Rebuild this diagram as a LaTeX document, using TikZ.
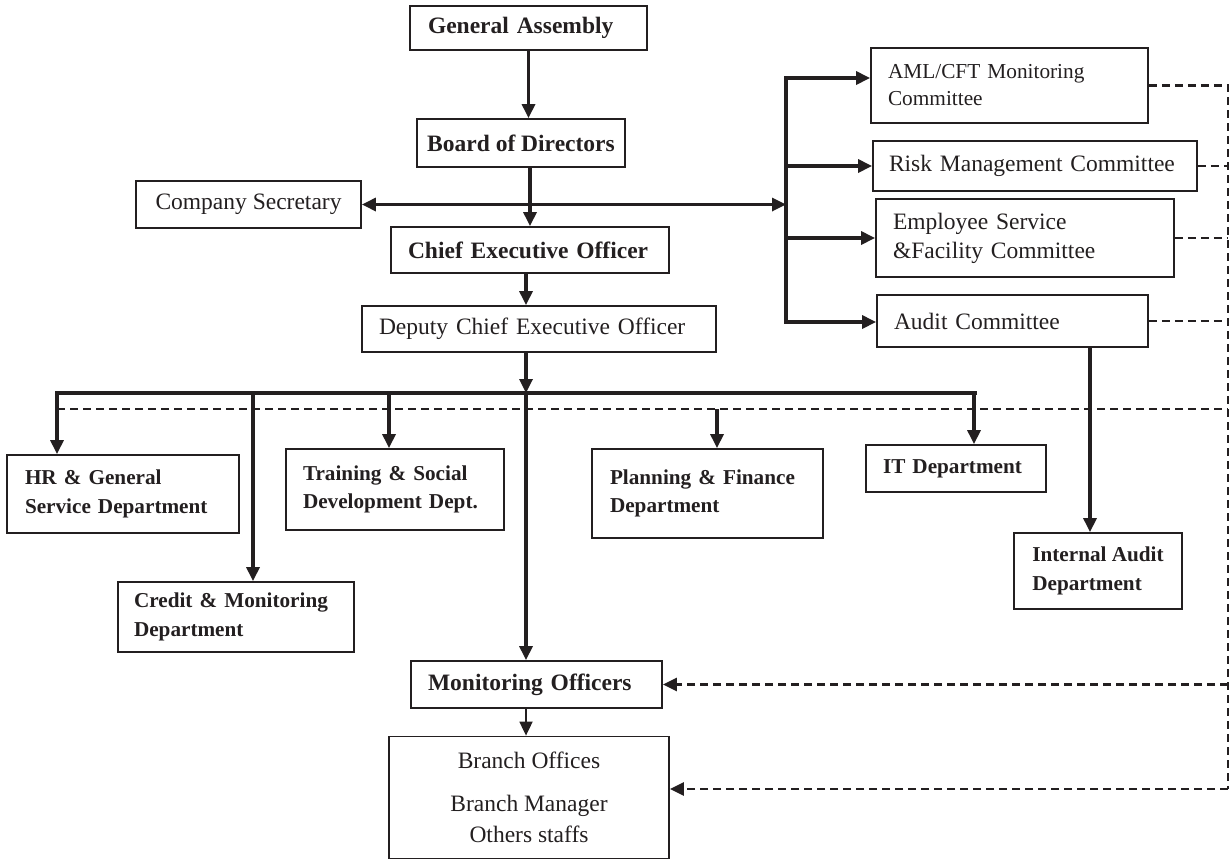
\documentclass[tikz,border=0pt]{standalone}
\usepackage{fontspec}
\setmainfont{Liberation Serif}
\usetikzlibrary{arrows.meta}
\definecolor{ink}{RGB}{35,31,32}
\tikzset{
  box/.style={draw=ink, line width=1.8pt, inner sep=0pt, text=ink, align=left},
  big/.style={font=\fontsize{23.5}{29}\selectfont},
  bigbf/.style={font=\bfseries\fontsize{23.5}{29}\selectfont},
  dept/.style={font=\bfseries\fontsize{21.2}{28.5}\selectfont},
  link/.style={draw=ink, line width=3.2pt},
  thinlink/.style={draw=ink, line width=1.8pt},
  dlink/.style={draw=ink, line width=2.4pt, dash pattern=on 8pt off 5pt},
}
\begin{document}
\begin{tikzpicture}[x=1pt,y=1pt,yscale=-1,xscale=1,>={Triangle[length=14pt,width=13pt]}]
\useasboundingbox (0,0) rectangle (1230,860);

% Box: top of the chart
\node[box, bigbf, minimum width=237pt, minimum height=44pt, text width=201pt] (ga) at (528.5,28) {General Assembly};
\node[box, bigbf, minimum width=208pt, minimum height=48pt] (bod) at (521,143) {Board of Directors};
\node[box, big, minimum width=225pt, minimum height=47pt] (cs) at (248.5,204.5) {Company Secretary};
\node[box, bigbf, minimum width=278pt, minimum height=46pt, text width=244pt] (ceo) at (530,250) {Chief Executive Officer};
\node[box, big, minimum width=354pt, minimum height=46pt, text width=320pt] (dceo) at (539,329) {Deputy Chief Executive Officer};

% Box: committees
\node[box, font=\fontsize{21.3}{27}\selectfont, minimum width=277pt, minimum height=75pt, text width=243pt] (aml) at (1009.5,85.5) {AML/CFT Monitoring\\Committee};
\node[box, big, minimum width=324pt, minimum height=50pt, text width=292pt] (risk) at (1035,166) {Risk Management Committee};
\node[box, big, minimum width=298pt, minimum height=78pt, text width=264pt] (esf) at (1025,238) {Employee Service\\\&Facility Committee};
\node[box, big, minimum width=271pt, minimum height=52pt, text width=237pt] (audit) at (1012.5,321) {Audit Committee};

% Box: departments
\node[box, dept, minimum width=232pt, minimum height=78pt, text width=196pt] (hr) at (123,494) {HR \& General\\Service Department};
\node[box, dept, minimum width=218pt, minimum height=81pt, text width=184pt] (tsd) at (395,489.5) {Training \& Social\\Development Dept.};
\node[box, dept, minimum width=236pt, minimum height=70pt, text width=204pt] (credit) at (236,617) {Credit \& Monitoring\\Department};
\node[box, dept, minimum width=231pt, minimum height=89pt, text width=195pt] (pf) at (707.5,493.5) {Planning \& Finance\\Department};
\node[box, dept, minimum width=180pt, minimum height=47pt, text width=146pt] (it) at (956,468.5) {IT Department};
\node[box, dept, minimum width=168pt, minimum height=76pt] (ia) at (1098,571) {Internal Audit\\Department};

% Box: field level
\node[box, bigbf, minimum width=251pt, minimum height=47pt, text width=217pt] (mo) at (536.5,684.5) {Monitoring Officers};
\node[box, big, align=center, minimum width=280pt, minimum height=122pt] (bo) at (529,797.5) {Branch Offices\\[14pt]Branch Manager\\[2pt]Others staffs};

% Junctions
\coordinate (bk) at (786,202);
\coordinate (bkTop) at (786,78);
\coordinate (bkBot) at (786,322);
\coordinate (sp) at (526,393);
\coordinate (busL) at (57,393);
\coordinate (busR) at (977,393);
\coordinate (dCr) at (253,393);
\coordinate (dTs) at (389,393);
\coordinate (dIt) at (974,393);
\coordinate (dL) at (57,409);
\coordinate (dPf) at (717,409);
\coordinate (dR) at (1228,789);
\coordinate (iaIn) at ([xshift=-8pt]ia.north);

% Solid lines
\draw[link,->] (ga.south) -- (ga.south |- bod.north);
\draw[link,->] (ceo.north |- bod.south) -- (ceo.north);
\draw[link,<->] (cs.east) -- (cs.east -| bk);
\draw[link,->] (bkBot) -- (bkTop) -- (bkTop -| aml.west);
\draw[link,->] (bkTop) -- (bkBot) -- (bkBot -| audit.west);
\foreach \n in {risk,esf} \draw[link,->] (bkTop |- \n.west) -- (\n.west);
\draw[link,->] (sp |- ceo.south) -- (sp |- dceo.north);
\draw[link,->] (sp |- dceo.south) -- (sp);
\draw[link,->] (busR) -- (busL) -- (busL |- hr.north);
\foreach \c/\n in {dCr/credit,dTs/tsd,dIt/it} \draw[link,->] (\c) -- (\c |- \n.north);
\draw[link,->] (sp) -- (sp |- mo.north);
\draw[thinlink,->] (sp |- mo.south) -- (sp |- bo.north);
\draw[link,->] (iaIn |- audit.south) -- (iaIn);

% Dashed lines
\draw[dlink] (dL) -- (dL -| dR);
\draw[dlink] (aml.east) -- (aml.east -| dR) -- (dR);
\foreach \n in {risk,esf,audit} \draw[dlink] (\n.east) -- (\n.east -| dR);
\draw[link,->] (dPf) -- (dPf |- pf.north);
\draw[dlink,->] (mo.east -| dR) -- (mo.east);
\draw[dlink,->] (dR) -- (dR -| bo.east);

\end{tikzpicture}
\end{document}
